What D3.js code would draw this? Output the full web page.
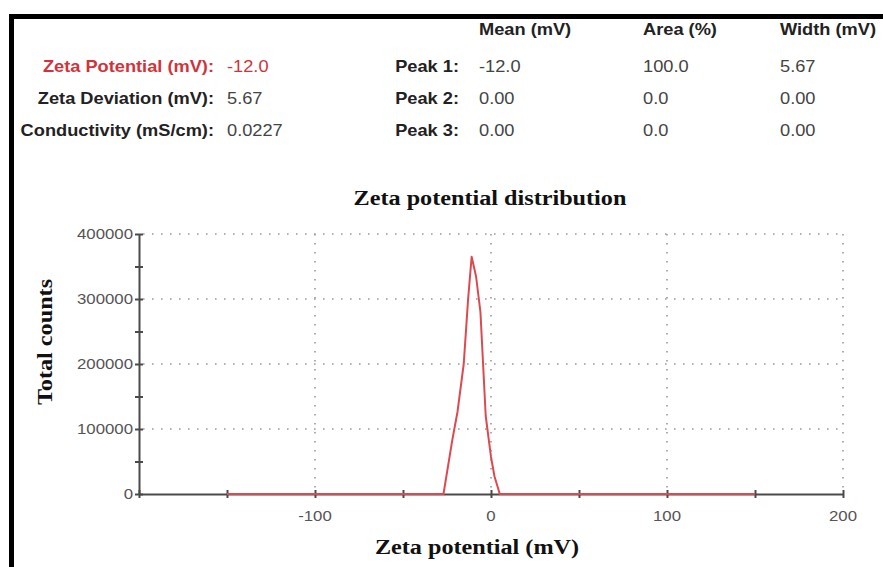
<!DOCTYPE html>
<html>
<head>
<meta charset="utf-8">
<script src="https://cdn.jsdelivr.net/npm/d3@7"></script>
<style>
  html, body { margin: 0; padding: 0; background: #fff; }
  svg { display: block; }
</style>
</head>
<body>
<svg id="chart" width="883" height="567"></svg>
<script>
// Measurement summary
const summaryLabels = ["Zeta Potential (mV):", "Zeta Deviation (mV):", "Conductivity (mS/cm):"];
const summaryValues = ["-12.0", "5.67", "0.0227"];
const peakLabels = ["Peak 1:", "Peak 2:", "Peak 3:"];
const peakHeaders = ["Mean (mV)", "Area (%)", "Width (mV)"];
const peakMeans = ["-12.0", "0.00", "0.00"];
const peakAreas = ["100.0", "0.0", "0.0"];
const peakWidths = ["5.67", "0.00", "0.00"];

// Distribution curve
const zetaMV = [-150, -27, -22, -19, -15.5, -13, -11, -8.5, -6, -3, 0, 2, 5, 150];
const totalCounts = [0, 0, 83000, 127000, 200000, 300000, 365000, 335000, 280000, 120000, 57000, 27000, 0, 0];

const xTicks = [-100, 0, 100, 200];
const yTicks = [0, 100000, 200000, 300000, 400000];

const svg = d3.select("#chart");

// frame edges
svg.append("rect").attr("x", 9).attr("y", 14).attr("width", 874).attr("height", 5).attr("fill", "#000");
svg.append("rect").attr("x", 9).attr("y", 14).attr("width", 5).attr("height", 553).attr("fill", "#000");

const sans = "'Liberation Sans', Arial, sans-serif";
const serif = "'Liberation Serif', 'Times New Roman', serif";

// text drawn with a slight horizontal stretch (wide report typeface)
function wideText(parent, px, py, str, opts) {
  const o = Object.assign({ size: 16, sx: 1.14, anchor: "start", weight: "normal", fill: "#444", family: sans, rotate: 0 }, opts);
  return parent.append("text")
    .attr("transform", `translate(${px},${py}) rotate(${o.rotate}) scale(${o.sx},1)`)
    .attr("text-anchor", o.anchor)
    .attr("font-family", o.family)
    .attr("font-size", o.size)
    .attr("font-weight", o.weight)
    .attr("fill", o.fill)
    .attr("dy", o.dy || null)
    .text(str);
}

const rowY = [72, 104, 136];
const red = "#d2333a";

// summary block
const sum = svg.append("g");
summaryLabels.forEach((t, i) => {
  wideText(sum, 214, rowY[i], t, { anchor: "end", weight: "bold", fill: i === 0 ? red : "#222" });
  wideText(sum, 227, rowY[i], summaryValues[i], { fill: i === 0 ? red : "#444" });
});

const colX = [479, 643, 780];
peakHeaders.forEach((t, i) => {
  wideText(sum, colX[i], 35, t, { weight: "bold", fill: "#222" });
});
peakLabels.forEach((t, i) => {
  wideText(sum, 459, rowY[i], t, { anchor: "end", weight: "bold", fill: "#222" });
  [peakMeans, peakAreas, peakWidths].forEach((col, j) => {
    wideText(sum, colX[j], rowY[i], col[i]);
  });
});

// chart
const x = d3.scaleLinear().domain([-200, 200]).range([139, 843]);
const y = d3.scaleLinear().domain([0, 400000]).range([494, 234]);

wideText(svg, 490, 205, "Zeta potential distribution",
  { anchor: "middle", family: serif, weight: "bold", size: 22, sx: 1.1, fill: "#111" });

// dotted grid
const grid = svg.append("g").attr("stroke", "#9a9a9a").attr("stroke-width", 1.6)
  .attr("stroke-dasharray", "1.6,7.4").attr("fill", "none");
yTicks.filter(v => v > 0).forEach(v => {
  grid.append("line").attr("x1", x(-200) + 4).attr("x2", x(200)).attr("y1", y(v)).attr("y2", y(v));
});
xTicks.forEach(v => {
  grid.append("line").attr("x1", x(v)).attr("x2", x(v)).attr("y1", y(400000)).attr("y2", y(0) - 3);
});

// axes
const axisColor = "#4a4a4a";
const yAxis = svg.append("g").attr("transform", `translate(${x(-200)},0)`)
  .call(d3.axisLeft(y).tickValues(d3.range(0, 400001, 50000)).tickSize(0).tickFormat(""));
yAxis.select(".domain").attr("stroke", axisColor).attr("stroke-width", 2);
yAxis.selectAll(".tick line").attr("x1", -4).attr("x2", 4).attr("stroke", axisColor).attr("stroke-width", 2);

const xAxis = svg.append("g").attr("transform", `translate(0,${y(0)})`)
  .call(d3.axisBottom(x).tickValues(d3.range(-200, 201, 50)).tickSize(0).tickFormat(""));
xAxis.select(".domain").attr("stroke", axisColor).attr("stroke-width", 2);
xAxis.selectAll(".tick line").attr("y1", -4).attr("y2", 4).attr("stroke", axisColor).attr("stroke-width", 2);

// tick labels
const tl = svg.append("g");
yTicks.forEach(v => {
  wideText(tl, x(-200) - 6, y(v), String(v), { anchor: "end", size: 15, sx: 1.12, fill: "#555", dy: "0.35em" });
});
xTicks.forEach(v => {
  wideText(tl, x(v), y(0) + 27, String(v), { anchor: "middle", size: 15, sx: 1.12, fill: "#555" });
});

// axis titles
wideText(svg, 477, 554, "Zeta potential (mV)",
  { anchor: "middle", family: serif, weight: "bold", size: 22, sx: 1.1, fill: "#111" });
wideText(svg, 52, 342, "Total counts",
  { anchor: "middle", family: serif, weight: "bold", size: 22, sx: 1.1, fill: "#111", rotate: -90 });

// distribution line
const line = d3.line().x((d, i) => x(zetaMV[i])).y(d => y(d));
svg.append("path").datum(totalCounts).attr("d", line).attr("fill", "none")
  .attr("stroke", "#dc4a4f").attr("stroke-width", 2).attr("stroke-linejoin", "round");
</script>
</body>
</html>
